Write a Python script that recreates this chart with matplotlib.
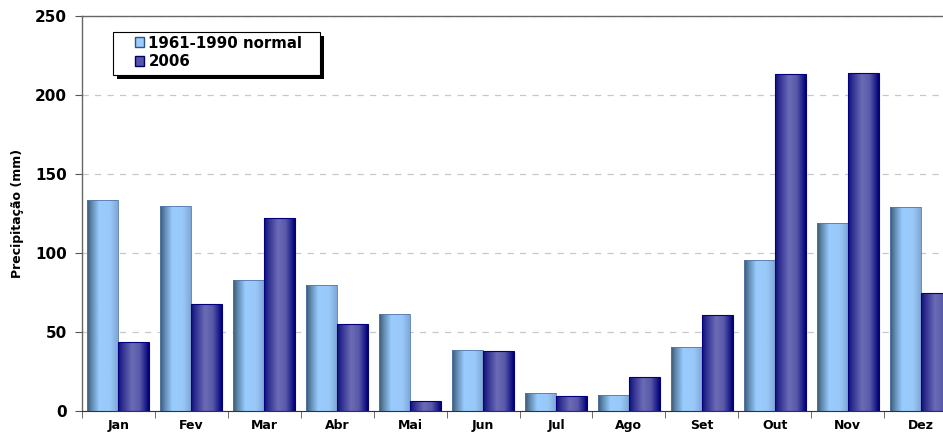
import numpy as np
import matplotlib
matplotlib.use('Agg')
import matplotlib.pyplot as plt
from matplotlib.colors import LinearSegmentedColormap
from matplotlib.patches import Patch, Rectangle

# Monthly precipitation (mm)
months = ['Jan', 'Fev', 'Mar', 'Abr', 'Mai', 'Jun', 'Jul', 'Ago', 'Set', 'Out', 'Nov', 'Dez']
normal = [133.5, 129.7, 83.0, 80.0, 61.5, 38.8, 11.4, 10.2, 40.5, 95.8, 119.0, 129.0]
y2006 = [43.8, 67.8, 122.0, 55.2, 6.2, 38.0, 9.4, 21.8, 60.7, 213.0, 213.8, 74.6]

cmap_normal = LinearSegmentedColormap.from_list(
    'normal', [(0, '#3a5670'), (0.15, '#5f88ad'), (0.4, '#99ccff'), (0.75, '#99c8f8'), (1, '#7fa8d6')])
cmap_2006 = LinearSegmentedColormap.from_list(
    'y2006', [(0, '#10107a'), (0.2, '#3a3a98'), (0.45, '#6b6bb5'), (0.7, '#5a5aaa'), (1, '#00007a')])

fig = plt.figure(figsize=(9.43, 4.34), dpi=100)
ax_w, ax_h = 957 - 82, 411 - 16
ax = fig.add_axes([82 / 943, 1 - 411 / 434, ax_w / 943, ax_h / 434])

x = np.arange(len(months))
w = 0.425
b1 = ax.bar(x - w / 2, normal, w, color='#99ccff', edgecolor='#5577aa', linewidth=0.6, zorder=2)
b2 = ax.bar(x + w / 2, y2006, w, color='#6b6bb5', edgecolor='#000080', linewidth=0.8, zorder=2)

grad = np.linspace(0, 1, 256).reshape(1, -1)


def shade(bars, cmap):
    for bar in bars:
        bx, by = bar.get_x(), bar.get_y()
        bw, bh = bar.get_width(), bar.get_height()
        im = ax.imshow(grad, cmap=cmap, aspect='auto', extent=[bx, bx + bw, by, by + bh],
                       zorder=2.5, interpolation='bilinear')
        im.set_clip_path(bar)


shade(b1, cmap_normal)
shade(b2, cmap_2006)
for bar in list(b1) + list(b2):
    bar.set_facecolor('none')
    bar.set_zorder(3)

ax.set_xlim(-0.5, 11.5)
ax.set_ylim(0, 250)
ax.set_yticks([0, 50, 100, 150, 200, 250])
ax.yaxis.grid(True, linestyle=(0, (5, 5)), color='#c8c8c8', linewidth=0.9, zorder=0)
ax.set_axisbelow(True)

ax.set_xticks(x)
ax.set_xticklabels(months, fontsize=9, fontweight='bold')
ax.set_xticks(np.arange(-0.5, 12, 1), minor=True)
ax.tick_params(axis='x', which='major', length=0, pad=6)
ax.tick_params(axis='x', which='minor', length=5, color='#555555', direction='out')
ax.tick_params(axis='y', labelsize=11, length=5, color='#555555', pad=6)
for lab in ax.get_yticklabels():
    lab.set_fontweight('bold')

ax.set_ylabel('Precipitação (mm)', fontsize=9, fontweight='bold', labelpad=8)

for s in ['left', 'top']:
    ax.spines[s].set_color('#666666')
    ax.spines[s].set_linewidth(1.0)
ax.spines['bottom'].set_color('#333333')
ax.spines['right'].set_visible(False)


def axfrac(px, py):
    return (px - 82) / ax_w, (411 - py) / ax_h


# legend box with black drop shadow
bx0, by0 = axfrac(113, 75)
bw, bh = 207 / ax_w, 43 / ax_h
sx, sy = 4 / ax_w, 4 / ax_h
ax.add_patch(Rectangle((bx0 + sx, by0 - sy), bw, bh, transform=ax.transAxes,
                       facecolor='black', edgecolor='none', zorder=6))
ax.add_patch(Rectangle((bx0, by0), bw, bh, transform=ax.transAxes,
                       facecolor='white', edgecolor='black', linewidth=0.8, zorder=7))

handles = [Patch(facecolor='#99ccff', edgecolor='#335577', label='1961-1990 normal'),
           Patch(facecolor='#5555aa', edgecolor='#000066', label='2006')]
leg = ax.legend(handles=handles, loc='upper left', bbox_to_anchor=axfrac(135, 35.5),
                frameon=False, prop={'weight': 'bold', 'size': 10.8},
                handlelength=0.6, handleheight=0.6, handletextpad=0.3, borderpad=0,
                labelspacing=0.25, borderaxespad=0)
leg.set_zorder(8)

fig.savefig('out.png', dpi=100)
